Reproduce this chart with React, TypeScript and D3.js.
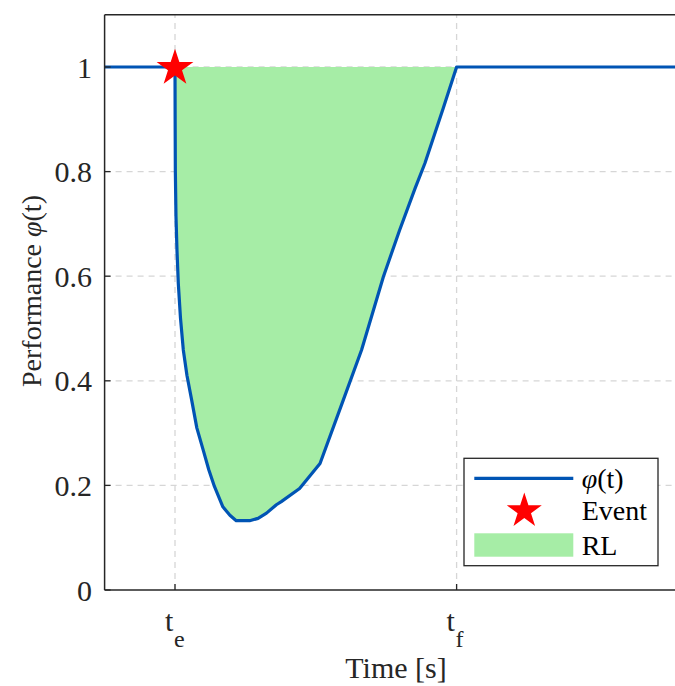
import React from "react";
import * as d3 from "d3";

const timeValues = [0, 1.0, 1.002, 1.005, 1.014, 1.028, 1.047, 1.078, 1.118, 1.17, 1.237, 1.31, 1.40, 1.48, 1.56, 1.68, 1.78, 1.87, 2.06, 2.18, 2.30, 2.44, 2.51, 2.77, 3.06, 3.39, 3.65, 3.96, 4.19, 4.41, 4.55, 4.81, 5.0, 9];
const perfValues = [1, 1, 0.9, 0.8, 0.714, 0.65, 0.586, 0.52, 0.459, 0.41, 0.363, 0.31, 0.268, 0.23, 0.198, 0.159, 0.143, 0.1325, 0.1325, 0.137, 0.147, 0.163, 0.169, 0.194, 0.242, 0.363, 0.459, 0.599, 0.688, 0.768, 0.816, 0.921, 1.0, 1];
const eventTime = 1;
const recoveryTime = 5;
const yTicks = [0, 0.2, 0.4, 0.6, 0.8, 1];
const xTickValues = [eventTime, recoveryTime];
const xTickSubs = ["e", "f"];
const legendLabels = ["φ(t)", "Event", "RL"];

const W = 675, H = 686;
const FONT = "'Liberation Serif', 'Times New Roman', serif";
const BLUE = "#0054b4";
const GREEN = "#a6eda6";
const AXIS = "#262626";
const GRID = "#d6d6d6";

export default function App() {
  const x = d3.scaleLinear().domain([0, 9]).range([104.6, 104.6 + 9 * 70.4]);
  const y = d3.scaleLinear().domain([0, 1.1]).range([590, 14.7]);
  const pts = timeValues.map((t, i) => ({ t, v: perfValues[i] }));
  const line = d3.line<{ t: number; v: number }>().x(d => x(d.t)).y(d => y(d.v));
  const area = d3.area<{ t: number; v: number }>().x(d => x(d.t)).y0(() => y(1)).y1(d => y(d.v));
  const fillPts = pts.filter(p => p.t >= eventTime && p.t <= recoveryTime);
  const star = d3.symbol().type(d3.symbolStar).size(420)();
  const legendStar = d3.symbol().type(d3.symbolStar).size(380)();
  const [x0, x1] = x.range();
  const [yb, yt] = y.range();

  return (
    <svg width={W} height={H} style={{ position: "absolute", left: 0, top: 0, background: "#fff" }} fontFamily={FONT}>
      <rect x={0} y={0} width={W} height={H} fill="#fff" />
      {yTicks.filter(v => v > 0).map(v => (
        <line key={"gy" + v} x1={x0} x2={x1} y1={y(v)} y2={y(v)} stroke={GRID} strokeWidth={1.3} strokeDasharray="6,5" />
      ))}
      {xTickValues.map(v => (
        <line key={"gx" + v} x1={x(v)} x2={x(v)} y1={yb} y2={yt} stroke={GRID} strokeWidth={1.3} strokeDasharray="6,5" />
      ))}
      <path d={area(fillPts) || ""} fill={GREEN} />
      <path d={line(pts) || ""} fill="none" stroke={BLUE} strokeWidth={3.2} strokeLinejoin="round" />
      <line x1={x0} x2={x1} y1={yt} y2={yt} stroke={AXIS} strokeWidth={1.5} />
      <line x1={x0} x2={x0} y1={yt} y2={yb} stroke={AXIS} strokeWidth={1.5} />
      <line x1={x0} x2={x1} y1={yb} y2={yb} stroke={AXIS} strokeWidth={1.5} />
      {yTicks.map(v => (
        <g key={"ty" + v}>
          <line x1={x0} x2={x0 + 6} y1={y(v)} y2={y(v)} stroke={AXIS} strokeWidth={1.3} />
          <text x={92} y={y(v)} dy="0.35em" textAnchor="end" fontSize={30} fill={AXIS}>{String(v)}</text>
        </g>
      ))}
      {xTickValues.map((v, i) => (
        <g key={"tx" + v}>
          <line x1={x(v)} x2={x(v)} y1={yb} y2={yb - 6} stroke={AXIS} strokeWidth={1.3} />
          <text x={x(v) - 10} y={631} fontSize={30} fill={AXIS}>t</text>
          <text x={x(v) - 1} y={647} fontSize={24} fill={AXIS}>{xTickSubs[i]}</text>
        </g>
      ))}
      <text x={396} y={678} textAnchor="middle" fontSize={30} fill={AXIS}>Time [s]</text>
      <text transform={`translate(41,291) rotate(-90)`} textAnchor="middle" fontSize={28} fill={AXIS}>
        Performance <tspan fontStyle="italic">φ</tspan>(t)
      </text>
      <path d={star || ""} transform={`translate(${x(eventTime)},${y(1) + 1})`} fill="#ff0000" />
      <rect x={464} y={458.3} width={194} height={107.4} fill="#fff" stroke={AXIS} strokeWidth={1.3} />
      <line x1={474.3} x2={573.3} y1={478.3} y2={478.3} stroke={BLUE} strokeWidth={3.2} />
      <path d={legendStar || ""} transform={`translate(524.3,511)`} fill="#ff0000" />
      <rect x={474.3} y={533.3} width={99} height={23.4} fill={GREEN} />
      <text x={581.7} y={478.3} dy="0.35em" fontSize={28} fill="#000">
        <tspan fontStyle="italic">φ</tspan>(t)
      </text>
      <text x={581.7} y={510} dy="0.35em" fontSize={28} fill="#000">{legendLabels[1]}</text>
      <text x={581.7} y={545} dy="0.35em" fontSize={28} fill="#000">{legendLabels[2]}</text>
    </svg>
  );
}
